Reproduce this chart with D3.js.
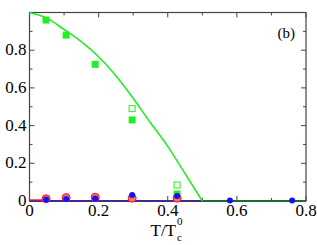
<!DOCTYPE html>
<html>
<head>
<meta charset="utf-8">
<script src="https://cdn.jsdelivr.net/npm/d3@7"></script>
<style>
  body { margin: 0; background: #fff; }
  svg text { font-family: "Liberation Serif", Tinos, "Times New Roman", Times, serif; }
</style>
</head>
<body>
<div id="chart"></div>
<script>
// green curve
const curveT = [0, 0.05, 0.1, 0.15, 0.2, 0.25, 0.3, 0.35, 0.4, 0.45, 0.5];
const curveV = [1.0, 0.97, 0.91, 0.845, 0.765, 0.665, 0.545, 0.415, 0.29, 0.145, 0];

// markers
const sqT = [0.048, 0.106, 0.19, 0.297, 0.427];
const sqFilled = [0.96, 0.88, 0.725, 0.43, 0.037];
const sqOpenT = [0.297, 0.427];
const sqOpen = [0.49, 0.085];
const redT = [0.048, 0.106, 0.19, 0.297, 0.427];
const redV = [0.012, 0.018, 0.02, 0.015, 0.015];
const blueT = [0.048, 0.106, 0.19, 0.297, 0.427, 0.58, 0.76];
const blueV = [0.008, 0.01, 0.013, 0.032, 0.027, 0.002, 0.002];

const xTicks = [0, 0.2, 0.4, 0.6, 0.8];
const yTicks = [0, 0.2, 0.4, 0.6, 0.8];

const width = 317, height = 245;
const margin = {top: 12.5, right: 11, bottom: 44, left: 29.5};
const w = width - margin.left - margin.right;
const h = height - margin.top - margin.bottom;

const svg = d3.select("#chart").append("svg")
    .attr("width", width)
    .attr("height", height);
const g = svg.append("g")
    .attr("transform", `translate(${margin.left},${margin.top})`);

const x = d3.scaleLinear([0, 0.8], [0, w]);
const y = d3.scaleLinear([0, 1], [h, 0]);

const axisColor = "#444";

// minor+major ticks (inward) on all four sides
const minorX = d3.range(0, 0.81, 0.1);
const minorY = d3.range(0, 1.01, 0.1);
minorX.forEach((t, i) => {
    const len = i % 2 === 0 ? 5 : 3;
    g.append("line").attr("x1", x(t)).attr("x2", x(t)).attr("y1", h).attr("y2", h - len).attr("stroke", axisColor);
    g.append("line").attr("x1", x(t)).attr("x2", x(t)).attr("y1", 0).attr("y2", len).attr("stroke", axisColor);
});
minorY.forEach((t, i) => {
    const len = i % 2 === 0 ? 5 : 3;
    g.append("line").attr("x1", 0).attr("x2", len).attr("y1", y(t)).attr("y2", y(t)).attr("stroke", axisColor);
    g.append("line").attr("x1", w).attr("x2", w - len).attr("y1", y(t)).attr("y2", y(t)).attr("stroke", axisColor);
});

// frame
g.append("rect")
    .attr("width", w).attr("height", h)
    .attr("fill", "none").attr("stroke", axisColor).attr("stroke-width", 1.2);

// tick labels
g.selectAll(".xl").data(xTicks).join("text")
    .attr("x", d => x(d)).attr("y", h + 15)
    .attr("text-anchor", "middle")
    .attr("font-size", 17)
    .text(d => d === 0 ? "0" : d.toFixed(1));
g.selectAll(".yl").data(yTicks).join("text")
    .attr("x", -3).attr("y", d => y(d) + 5)
    .attr("text-anchor", "end")
    .attr("font-size", 17)
    .text(d => d === 0 ? "0" : d.toFixed(1));

// x label T/T_c^0
const xl = g.append("text")
    .attr("x", 121).attr("y", h + 35)
    .attr("font-size", 17);
xl.append("tspan").text("T/T");
xl.append("tspan").attr("dy", -11).attr("dx", 1).attr("font-size", 11).text("0");
xl.append("tspan").attr("dy", 16).attr("dx", -5.5).attr("font-size", 11).text("c");

g.append("text")
    .attr("x", 248).attr("y", 25)
    .attr("font-size", 15)
    .text("(b)");

// baseline lines
const line = d3.line().x(d => x(d[0])).y(d => y(d[1]));
g.append("path").attr("d", line([[0, 0], [0.5, 0]]))
    .attr("stroke", "#3f2a8c").attr("stroke-width", 2).attr("fill", "none");
g.append("path").attr("d", line([[0.5, 0], [0.8, 0]]))
    .attr("stroke", "#1f6b2a").attr("stroke-width", 2).attr("fill", "none");
g.append("path").attr("d", line([[0, 0.006], [0.05, 0.006]]))
    .attr("stroke", "#ff2020").attr("stroke-width", 1.2).attr("fill", "none");

// green curve
const curveData = curveT.map((t, i) => [t, curveV[i]]);
g.append("path")
    .attr("d", d3.line().x(d => x(d[0])).y(d => y(d[1])).curve(d3.curveMonotoneX)(curveData))
    .attr("stroke", "#22ee22").attr("stroke-width", 1.6).attr("fill", "none");

// markers
const s = 7;
g.selectAll(".sqo").data(sqOpenT.map((t, i) => [t, sqOpen[i]])).join("rect")
    .attr("x", d => x(d[0]) - 3).attr("y", d => y(d[1]) - 3)
    .attr("width", 6).attr("height", 6)
    .attr("fill", "#fff").attr("stroke", "#22ee22").attr("stroke-width", 1);
g.selectAll(".sqf").data(sqT.map((t, i) => [t, sqFilled[i]])).join("rect")
    .attr("x", d => x(d[0]) - s / 2).attr("y", d => y(d[1]) - s / 2)
    .attr("width", s).attr("height", s)
    .attr("fill", "#22ee22");
g.selectAll(".red").data(redT.map((t, i) => [t, redV[i]])).join("circle")
    .attr("cx", d => x(d[0])).attr("cy", d => y(d[1]))
    .attr("r", 4)
    .attr("fill", "#ff7070").attr("stroke", "#ff1010").attr("stroke-width", 1);
g.selectAll(".blue").data(blueT.map((t, i) => [t, blueV[i]])).join("circle")
    .attr("cx", d => x(d[0])).attr("cy", d => y(d[1]))
    .attr("r", 3)
    .attr("fill", "#1010ff");
</script>
</body>
</html>
